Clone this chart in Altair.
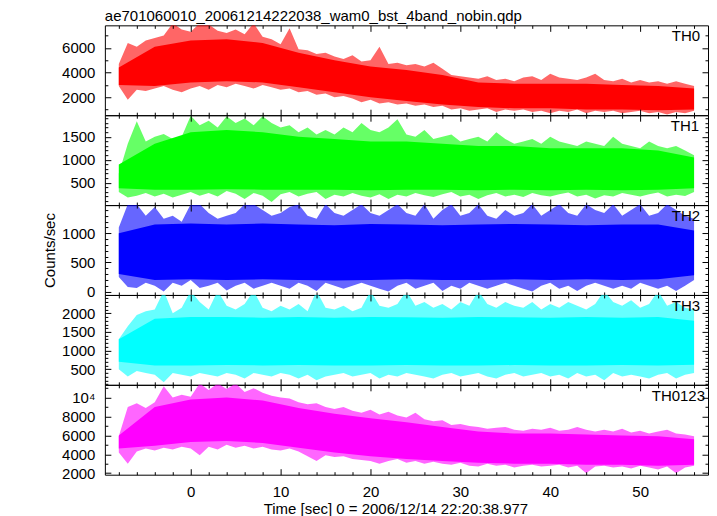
import altair as alt
import pandas as pd

TITLE = "ae701060010_20061214222038_wam0_bst_4band_nobin.qdp"
X_TITLE = "Time [sec] 0 = 2006/12/14 22:20:38.977"
Y_TITLE = "Counts/sec"
BANDS = ["TH0", "TH1", "TH2", "TH3", "TH0123"]
COLORS = ["#ff0000", "#00ff00", "#0000ff", "#00ffff", "#ff00ff"]

# time grid (s) of the envelope samples
T_FINE = list(range(-8, 57))
T_CORE = list(range(-8, 57, 4))

# per-second maximum / minimum of each light curve (spike envelope)
TH0_HI = [4700, 6400, 6100, 6600, 6800, 7000, 8000, 7500, 7300, 8000, 7900, 7400, 7200, 7500, 7100, 8000,
          6900, 6700, 6300, 7600, 5900, 5800, 5500, 5600, 5300, 5100, 5400, 4900, 5000, 6100, 4700, 4800,
          4600, 4700, 4500, 4800, 4300, 3800, 3700, 3600, 3500, 3700, 3400, 3500, 3300, 3600, 3700, 3400,
          3900, 3600, 3500, 3400, 3600, 3900, 3400, 3300, 3500, 3200, 3400, 3200, 3300, 3100, 3300, 3100, 2900]
TH0_LO = [2900, 1800, 2600, 2500, 2700, 2900, 2600, 2400, 2700, 2900, 2600, 3000, 2800, 3100, 2900, 2700,
          3000, 2800, 2600, 2700, 2400, 2500, 2200, 2300, 2000, 2100, 1900, 1600, 1800, 1500, 1600, 1400,
          1500, 1300, 1400, 1200, 1300, 1000, 1100, 900, 1000, 1100, 800, 1000, 900, 1000, 800, 900,
          700, 900, 800, 1000, 700, 900, 800, 900, 700, 800, 900, 700, 800, 600, 800, 700, 900]
TH1_HI = [700, 1350, 1840, 1400, 1500, 1560, 1450, 1500, 1960, 1750, 1850, 1700, 1950, 1800, 1900, 1750,
          1950, 1800, 1700, 1750, 1600, 1700, 1550, 1650, 1550, 1700, 1600, 1800, 1650, 1600, 1700, 1880,
          1550, 1500, 1650, 1450, 1500, 1550, 1400, 1450, 1500, 1400, 1600, 1450, 1350, 1400, 1450, 1350,
          1500, 1400, 1350, 1300, 1400, 1350, 1300, 1500, 1350, 1300, 1250, 1400, 1300, 1250, 1300, 1200, 1100]
TH1_LO = [300, 180, 220, 280, 200, 260, 180, 240, 300, 220, 280, 200, 320, 260, 150, 280,
          220, 80, 250, 300, 200, 260, 300, 150, 240, 200, 280, 220, 180, 250, 150, 240,
          200, 280, 230, 190, 250, 300, 200, 240, 150, 230, 280, 200, 240, 190, 280, 230,
          200, 250, 290, 200, 240, 160, 230, 200, 280, 240, 200, 250, 290, 200, 240, 210, 300]
TH2_HI = [1100, 1500, 1500, 1300, 1450, 1250, 1300, 1200, 1500, 1500, 1350, 1250, 1300, 1350, 1500, 1500,
          1400, 1300, 1350, 1450, 1500, 1300, 1250, 1500, 1350, 1300, 1400, 1500, 1350, 1300, 1400, 1500,
          1350, 1300, 1500, 1250, 1400, 1500, 1300, 1350, 1500, 1300, 1250, 1400, 1300, 1350, 1500, 1300,
          1400, 1500, 1350, 1300, 1500, 1400, 1350, 1500, 1300, 1400, 1500, 1300, 1350, 1500, 1400, 1300, 1250]
TH2_LO = [250, 80, 60, 150, 100, 0, 150, 100, 200, 60, 100, 150, 20, 100, 150, 50,
          100, 150, 100, 50, 150, 100, 10, 150, 100, 50, 100, 150, 100, 50, 0, 100,
          150, 50, 100, 150, 10, 100, 50, 150, 100, 50, 100, 150, 100, 50, 0, 100,
          150, 50, 100, 10, 100, 150, 100, 50, 100, 50, 150, 100, 50, 100, 10, 100, 200]
TH3_HI = [1300, 1650, 1950, 2050, 2100, 2600, 2000, 2150, 2600, 2300, 2100, 2600, 2200, 2100, 2250, 2600,
          2150, 2050, 2200, 2100, 2250, 2050, 2600, 2150, 2100, 2200, 2050, 2150, 2600, 2200, 2150, 2250,
          2600, 2200, 2300, 2150, 2250, 2100, 2300, 2200, 2600, 2250, 2150, 2300, 2200, 2150, 2300, 2100,
          2250, 2150, 2300, 2200, 2100, 2250, 2600, 2300, 2200, 2350, 2150, 2250, 2600, 2200, 2300, 2150, 2100]
TH3_LO = [500, 300, 450, 400, 350, 150, 400, 350, 300, 400, 350, 300, 400, 350, 250, 400,
          350, 300, 400, 350, 250, 350, 200, 300, 350, 400, 300, 350, 400, 250, 350, 300,
          400, 350, 300, 250, 350, 400, 300, 350, 400, 300, 250, 350, 400, 300, 350, 400,
          300, 350, 250, 400, 300, 350, 200, 400, 300, 350, 300, 250, 350, 400, 250, 350, 400]
TH0123_HI = [5900, 9000, 9400, 8900, 9500, 11200, 10000, 10300, 10100, 11500, 10800, 11500, 10900, 11500, 10600, 11000,
             10500, 10200, 10000, 9900, 9500, 9300, 9400, 9000, 8800, 9000, 8600, 8400, 8700, 8200, 8500, 8100,
             7900, 8400, 7700, 7500, 7600, 7100, 7200, 7000, 6900, 6700, 6800, 6900, 6600, 6500, 6700, 6600,
             6800, 6500, 6600, 6900, 6600, 6400, 6600, 6400, 6700, 6300, 6500, 6200, 6400, 6600, 6200, 6100, 5900]
TH0123_LO = [4200, 3000, 4300, 4600, 4400, 4700, 4500, 4800, 4600, 3900, 4800, 4500, 5000, 4700, 4900, 4600,
             4800, 4500, 4400, 4600, 4300, 3800, 3300, 3900, 3700, 3800, 3500, 3400, 3300, 3000, 3300, 3500,
             3100, 3300, 3000, 3200, 3000, 2900, 3100, 2800, 2700, 3000, 2800, 2900, 2600, 2800, 2900, 2700,
             2800, 2900, 2600, 2800, 2000, 2700, 2800, 2600, 2700, 2500, 2800, 2600, 2400, 2700, 2000, 2600, 2800]

# dense core of each light curve, every 4 s
TH0_CHI = [4400, 6100, 6600, 6700, 6400, 5600, 5000, 4500, 4200, 3800, 3200, 3100, 3100, 3100, 3000, 2900, 2700]
TH0_CLO = [3000, 2900, 3200, 3300, 3200, 2800, 2400, 2000, 1700, 1400, 1200, 1100, 1100, 1000, 1000, 950, 1000]
TH1_CHI = [900, 1350, 1600, 1650, 1600, 1500, 1450, 1400, 1400, 1350, 1300, 1300, 1250, 1250, 1250, 1200, 1050]
TH1_CLO = [380, 350, 350, 360, 350, 350, 350, 340, 350, 350, 340, 350, 340, 350, 340, 350, 380]
TH2_CHI = [1000, 1150, 1170, 1150, 1170, 1150, 1140, 1160, 1150, 1140, 1150, 1160, 1150, 1140, 1150, 1150, 1050]
TH2_CLO = [300, 200, 210, 200, 210, 200, 190, 200, 210, 200, 200, 210, 200, 210, 200, 210, 280]
TH3_CHI = [1300, 1850, 1900, 1900, 1880, 1900, 1880, 1900, 1890, 1880, 1900, 1890, 1880, 1900, 1880, 1900, 1800]
TH3_CLO = [700, 600, 600, 610, 600, 610, 600, 600, 610, 600, 600, 610, 600, 600, 610, 600, 620]
TH0123_CHI = [6000, 9000, 9800, 10000, 9700, 8900, 8300, 7800, 7400, 6900, 6400, 6200, 6200, 6100, 6000, 5900, 5600]
TH0123_CLO = [4600, 4900, 5300, 5400, 5200, 4700, 4200, 3800, 3500, 3300, 3100, 3000, 3000, 2900, 2900, 2800, 2900]

HI = [TH0_HI, TH1_HI, TH2_HI, TH3_HI, TH0123_HI]
LO = [TH0_LO, TH1_LO, TH2_LO, TH3_LO, TH0123_LO]
CHI = [TH0_CHI, TH1_CHI, TH2_CHI, TH3_CHI, TH0123_CHI]
CLO = [TH0_CLO, TH1_CLO, TH2_CLO, TH3_CLO, TH0123_CLO]

# axis ranges and ticks
X_DOMAIN = [-9.55, 57.55]
X_MAJOR = [0, 10, 20, 30, 40, 50]
X_MINOR = [v for v in range(-8, 57, 2) if v % 10 != 0]
Y_DOMAINS = [[540, 7830], [15, 1970], [-58, 1485], [80, 2490], [1840, 11350]]
Y_MAJOR = [[2000, 4000, 6000], [500, 1000, 1500], [0, 500, 1000], [500, 1000, 1500, 2000],
           [2000, 4000, 6000, 8000, 10000]]
Y_MINOR = [[1000, 3000, 5000, 7000],
           [v for v in range(100, 2000, 100) if v % 500 != 0],
           [v for v in range(100, 1500, 100) if v % 500 != 0],
           [v for v in range(100, 2500, 100) if v % 500 != 0],
           [3000, 5000, 7000, 9000, 11000]]
LABEL_INSET = [8, 9, 8, 8, 3]

FONT = "Liberation Sans"
W, H = 604, 90


def tick_axis(orient, offset, values, size):
    return alt.Axis(orient=orient, offset=offset, values=values, labels=False, domain=False,
                    grid=False, ticks=True, tickSize=size, tickColor="black", tickWidth=1,
                    title=None, zindex=2)


def panel(i):
    xs = alt.Scale(domain=X_DOMAIN, nice=False, zero=False)
    ys = alt.Scale(domain=Y_DOMAINS[i], nice=False, zero=False)
    fine = pd.DataFrame({"t": T_FINE, "hi": HI[i], "lo": LO[i]})
    core = pd.DataFrame({"t": T_CORE, "hi": CHI[i], "lo": CLO[i]})
    if i == 4:
        xaxis = alt.Axis(orient="bottom", values=X_MAJOR, ticks=False, tickSize=0, domain=False,
                         grid=False, labelPadding=10, format="d", title=X_TITLE, titlePadding=2,
                         titleX=291)
    else:
        xaxis = None
    yaxis = alt.Axis(orient="left", values=Y_MAJOR[i], ticks=False, tickSize=0, domain=False,
                     grid=False, labelPadding=10, format="d",
                     labelExpr="datum.value == 10000 ? '10\u2074' : datum.label",
                     title=Y_TITLE if i == 2 else None, titlePadding=4)
    spikes = alt.Chart(fine).mark_area(color=COLORS[i], opacity=0.6, clip=True).encode(
        x=alt.X("t:Q", scale=xs, axis=xaxis),
        y=alt.Y("hi:Q", scale=ys, axis=yaxis),
        y2="lo:Q",
    )
    body = alt.Chart(core).mark_area(color=COLORS[i], opacity=1, clip=True).encode(
        x=alt.X("t:Q", scale=xs, axis=tick_axis("top", -H, X_MAJOR, 6)),
        y=alt.Y("hi:Q", scale=ys, axis=tick_axis("right", -W, Y_MAJOR[i], 6)),
        y2="lo:Q",
    )
    g1 = alt.Chart(core).mark_point(opacity=0, size=0).encode(
        x=alt.X("t:Q", scale=xs, axis=tick_axis("top", -H, X_MINOR, 3)),
        y=alt.Y("hi:Q", scale=ys, axis=tick_axis("right", -W, Y_MINOR[i], 3)),
    )
    g2 = alt.Chart(core).mark_point(opacity=0, size=0).encode(
        x=alt.X("t:Q", scale=xs, axis=tick_axis("bottom", -H, X_MAJOR, 6)),
        y=alt.Y("hi:Q", scale=ys, axis=tick_axis("left", -W, Y_MAJOR[i], 6)),
    )
    g3 = alt.Chart(core).mark_point(opacity=0, size=0).encode(
        x=alt.X("t:Q", scale=xs, axis=tick_axis("bottom", -H, X_MINOR, 3)),
        y=alt.Y("hi:Q", scale=ys, axis=tick_axis("left", -W, Y_MINOR[i], 3)),
    )
    label = alt.Chart(pd.DataFrame({"band": [BANDS[i]]})).mark_text(
        align="right", baseline="alphabetic", font=FONT, fontSize=15, color="black"
    ).encode(x=alt.value(W - LABEL_INSET[i]), y=alt.value(16), text="band:N")
    layer = alt.layer(spikes, body, g1, g2, g3, label).resolve_axis(
        x="independent", y="independent"
    ).properties(width=W, height=H)
    if i == 0:
        layer = layer.properties(
            title=alt.TitleParams(TITLE, anchor="start", frame="group", offset=1)
        )
    return layer


chart = alt.vconcat(*[panel(i) for i in range(5)], spacing=0, bounds="flush").resolve_scale(
    x="independent", y="independent"
).properties(
    padding={"left": 34, "top": 0, "right": 0, "bottom": 0}, background="white"
).configure_view(
    stroke="black", strokeWidth=1
).configure_axis(
    labelFont=FONT, labelFontSize=15, labelColor="black",
    titleFont=FONT, titleFontSize=15, titleFontWeight="normal", titleColor="black"
).configure_title(
    font=FONT, fontSize=15, fontWeight="normal", color="black"
)

chart.save("out.html", embed_options={"renderer": "svg", "actions": False})
